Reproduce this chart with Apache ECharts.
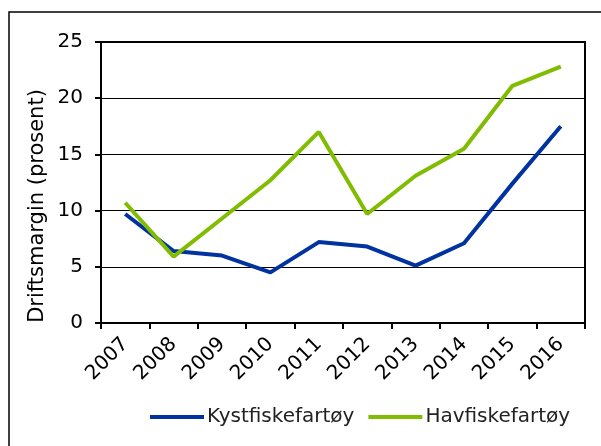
<!DOCTYPE html>
<html>
<head>
<meta charset="utf-8">
<script src="https://cdn.jsdelivr.net/npm/echarts@6/dist/echarts.min.js"></script>
<style>
html, body { margin: 0; padding: 0; background: #fff; }
#charts { width: 601px; height: 446px; }
</style>
</head>
<body>
<div id="charts"></div>
<script>
var years = ['2007', '2008', '2009', '2010', '2011', '2012', '2013', '2014', '2015', '2016'];
var kyst = [9.7, 6.4, 6.0, 4.5, 7.2, 6.8, 5.1, 7.1, 12.4, 17.5];
var hav = [10.7, 5.9, 9.3, 12.7, 17.0, 9.7, 13.1, 15.5, 21.1, 22.8];
var seriesNames = ['Kystfiskefartøy', 'Havfiskefartøy'];
var yTitle = 'Driftsmargin (prosent)';

var font = 'Verdana, "DejaVu Sans", sans-serif';
var myChart = echarts.init(document.getElementById('charts'));
var option = {
    animation: false,
    graphic: [{
        type: 'rect',
        shape: { x: 9, y: 12, width: 620, height: 460 },
        style: { fill: 'none', stroke: '#000', lineWidth: 1.5 },
        silent: true
    }, {
        // y axis title sits lower than the plot centre in the original
        type: 'text',
        x: 38,
        y: 206,
        rotation: Math.PI / 2,
        style: {
            text: yTitle,
            font: '21px ' + font,
            fill: '#000',
            align: 'center',
            verticalAlign: 'middle'
        },
        silent: true
    }],
    grid: {
        left: 101,
        right: 16,
        top: 42,
        bottom: 123,
        show: true,
        borderColor: '#000',
        borderWidth: 2
    },
    legend: {
        bottom: 14,
        left: 145,
        itemWidth: 54,
        itemHeight: 4,
        itemGap: 14,
        icon: 'rect',
        textStyle: { fontFamily: font, fontSize: 20, color: '#222', padding: [0, 0, 0, -2] },
        data: seriesNames
    },
    xAxis: {
        type: 'category',
        data: years,
        boundaryGap: true,
        axisLine: { lineStyle: { color: '#000', width: 2 } },
        axisTick: { show: true, interval: 0, length: 6, lineStyle: { color: '#000', width: 2 } },
        axisLabel: { rotate: 45, fontFamily: font, fontSize: 20, color: '#000', margin: 18, interval: 0 }
    },
    yAxis: {
        type: 'value',
        min: 0,
        max: 25,
        interval: 5,
        axisLine: { show: true, lineStyle: { color: '#000', width: 2 } },
        axisTick: { show: true, length: 6, lineStyle: { color: '#000', width: 2 } },
        axisLabel: { fontFamily: font, fontSize: 20, color: '#000', margin: 18 },
        splitLine: { lineStyle: { color: '#000', width: 1 } }
    },
    series: [{
        name: seriesNames[0],
        type: 'line',
        data: kyst,
        symbol: 'none',
        lineStyle: { color: '#0033a0', width: 4 },
        itemStyle: { color: '#0033a0' }
    }, {
        name: seriesNames[1],
        type: 'line',
        data: hav,
        symbol: 'none',
        lineStyle: { color: '#80bc00', width: 4 },
        itemStyle: { color: '#80bc00' }
    }]
};
myChart.setOption(option);
</script>
</body>
</html>
